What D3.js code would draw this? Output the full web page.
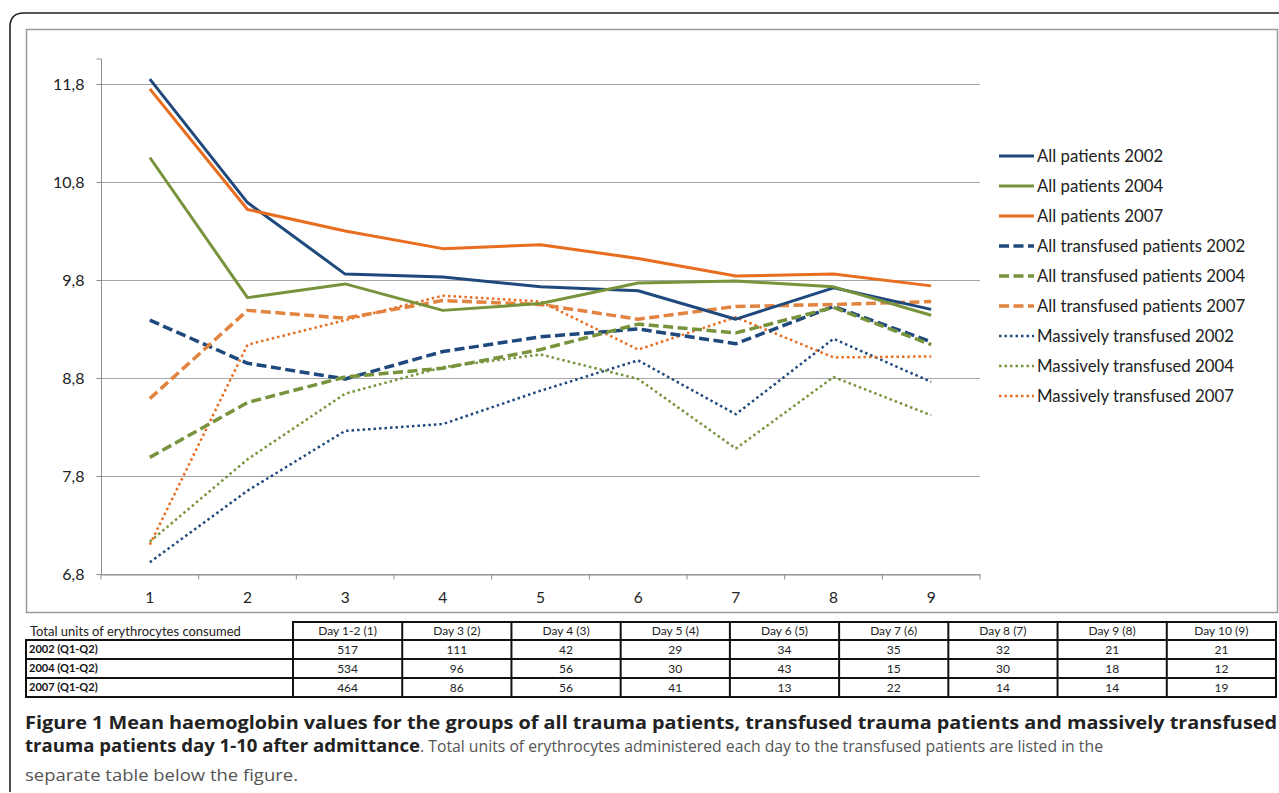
<!DOCTYPE html>
<body style="margin:0; background:#fff">

<script src="https://cdn.jsdelivr.net/npm/d3@7/dist/d3.min.js"></script>
<script>

  const days = [1, 2, 3, 4, 5, 6, 7, 8, 9]
  const yTicks = [6.8, 7.8, 8.8, 9.8, 10.8, 11.8]

  // mean haemoglobin per day
  const allPatients2002 = [11.85, 10.59, 9.86, 9.83, 9.73, 9.69, 9.40, 9.72, 9.50]
  const allPatients2004 = [11.05, 9.62, 9.76, 9.49, 9.56, 9.77, 9.79, 9.73, 9.44]
  const allPatients2007 = [11.75, 10.52, 10.30, 10.12, 10.16, 10.02, 9.84, 9.86, 9.74]
  const transfused2002 = [9.39, 8.95, 8.79, 9.07, 9.22, 9.30, 9.15, 9.53, 9.17]
  const transfused2004 = [7.99, 8.55, 8.81, 8.90, 9.09, 9.35, 9.26, 9.52, 9.14]
  const transfused2007 = [8.59, 9.49, 9.41, 9.59, 9.55, 9.40, 9.53, 9.55, 9.58]
  const massive2002 = [6.92, 7.65, 8.26, 8.33, 8.67, 8.98, 8.43, 9.20, 8.76]
  const massive2004 = [7.13, 7.97, 8.64, 8.91, 9.04, 8.79, 8.08, 8.81, 8.42]
  const massive2007 = [7.10, 9.14, 9.39, 9.64, 9.58, 9.09, 9.42, 9.01, 9.02]

  const seriesNames = ['All patients 2002', 'All patients 2004', 'All patients 2007',
                       'All transfused patients 2002', 'All transfused patients 2004', 'All transfused patients 2007',
                       'Massively transfused 2002', 'Massively transfused 2004', 'Massively transfused 2007']
  const seriesValues = [allPatients2002, allPatients2004, allPatients2007,
                        transfused2002, transfused2004, transfused2007,
                        massive2002, massive2004, massive2007]

  // table below the chart
  const tableTitle = 'Total units of erythrocytes consumed'
  const tableHeaders = ['Day 1-2 (1)', 'Day 3 (2)', 'Day 4 (3)', 'Day 5 (4)', 'Day 6 (5)',
                        'Day 7 (6)', 'Day 8 (7)', 'Day 9 (8)', 'Day 10 (9)']
  const tableRowLabels = ['2002 (Q1-Q2)', '2004 (Q1-Q2)', '2007 (Q1-Q2)']
  const units2002 = [517, 111, 42, 29, 34, 35, 32, 21, 21]
  const units2004 = [534, 96, 56, 30, 43, 15, 30, 18, 12]
  const units2007 = [464, 86, 56, 41, 13, 22, 14, 14, 19]
  const tableRows = [units2002, units2004, units2007]

  const colors = {blue: '#1F497D', green: '#77933C', orange: '#E86D1F', orangeLight: '#E2843F'}
  const styles = [
    {color: colors.blue, dash: null, width: 3},
    {color: colors.green, dash: null, width: 3},
    {color: colors.orange, dash: null, width: 3},
    {color: colors.blue, dash: '10,4.5', width: 3.5},
    {color: colors.green, dash: '10,4.5', width: 3.5},
    {color: colors.orangeLight, dash: '10,4.5', width: 3.5},
    {color: colors.blue, dash: '2.5,3', width: 2.5},
    {color: colors.green, dash: '2.5,3', width: 2.5},
    {color: colors.orange, dash: '2.5,3', width: 2.5}
  ]

  const plot = {left: 101, right: 980, top: 59, bottom: 574}
  const chartFont = 'Lato, "Open Sans", sans-serif'

  const svg = d3.select('body').append('svg')
      .attr('width', 1279)
      .attr('height', 793)

  // outer rounded frame, cut by the page edge
  svg.append('path')
      .attr('d', 'M10,792 L10,27 Q10,13 24,13 L1290,13')
      .style('fill', 'none')
      .style('stroke', '#222')
      .style('stroke-width', 1.6)

  // chart box
  svg.append('rect')
      .attr('x', 26.5).attr('y', 29.5)
      .attr('width', 1251).attr('height', 583)
      .style('fill', '#fff')
      .style('stroke', '#9a9a9a')
      .style('stroke-width', 1.5)

  const xScale = d3.scaleBand()
    .domain(days)
    .range([plot.left, plot.right])
  const yScale = d3.scaleLinear()
    .domain([6.8, 12.055])
    .range([plot.bottom, plot.top])

  const g = svg.append('g')

  // gridlines
  g.selectAll('.grid')
    .data(yTicks)
    .enter().append('line')
      .attr('class', 'grid')
      .attr('x1', plot.left).attr('x2', plot.right)
      .attr('y1', d => Math.round(yScale(d)) + 0.5)
      .attr('y2', d => Math.round(yScale(d)) + 0.5)
      .style('stroke', '#a6a6a6')
      .style('stroke-width', 1)

  const fmt = d => d3.format('.1f')(d).replace('.', ',')

  const yAxis = d3.axisLeft(yScale)
    .tickValues(yTicks)
    .tickFormat(fmt)
    .tickSize(5)
    .tickPadding(12)
  const gy = g.append('g')
      .attr('transform', `translate(${plot.left + 0.5},0)`)
      .call(yAxis)
  gy.select('.domain').attr('d', `M-5,${plot.top}H0V${plot.bottom}`).style('stroke', '#8c8c8c')
  gy.selectAll('.tick line').style('stroke', '#8c8c8c')
  gy.selectAll('.tick text')
      .style('font-family', chartFont)
      .style('font-size', '16px')
      .style('fill', '#222')

  // x axis: ticks between categories
  const xAxis = d3.axisBottom(xScale).tickSize(0).tickPadding(17)
  const gx = g.append('g')
      .attr('transform', `translate(0,${plot.bottom + 0.5})`)
      .call(xAxis)
  gx.select('.domain').style('stroke', '#8c8c8c')
  gx.selectAll('.tick text')
      .style('font-family', chartFont)
      .style('font-size', '15.5px')
      .style('fill', '#222')
  gx.selectAll('.sep')
    .data(days.concat([10]))
    .enter().append('line')
      .attr('class', 'sep')
      .attr('x1', (d, i) => plot.left + i * xScale.step())
      .attr('x2', (d, i) => plot.left + i * xScale.step())
      .attr('y1', 0).attr('y2', 5)
      .style('stroke', '#8c8c8c')

  // series lines
  const line = d3.line()
    .x((d, i) => xScale(days[i]) + xScale.bandwidth() / 2)
    .y(d => yScale(d))

  const order = [6, 7, 8, 3, 4, 5, 0, 1, 2]
  order.forEach(i => {
    g.append('path')
        .datum(seriesValues[i])
        .attr('d', line)
        .style('fill', 'none')
        .style('stroke', styles[i].color)
        .style('stroke-width', styles[i].width)
        .style('stroke-dasharray', styles[i].dash)
        .style('stroke-linejoin', 'round')
  })

  // legend
  const legend = svg.append('g')
  seriesNames.forEach((name, i) => {
    const y = 156 + i * 30
    legend.append('line')
        .attr('x1', 999).attr('x2', 1034)
        .attr('y1', y).attr('y2', y)
        .style('stroke', styles[i].color)
        .style('stroke-width', styles[i].width)
        .style('stroke-dasharray', styles[i].dash)
    legend.append('text')
        .attr('x', 1037).attr('y', y)
        .attr('dy', '0.35em')
        .style('font-family', chartFont)
        .style('font-size', '16.8px')
        .style('fill', '#222')
        .text(name)
  })

  // table
  const tab = {left: 26, first: 293, right: 1276, rowsY: [622, 640, 659, 678, 697]}
  const colW = (tab.right - tab.first) / tableHeaders.length
  const tg = svg.append('g')
      .style('font-family', chartFont)

  tg.append('text')
      .attr('x', 30).attr('y', (tab.rowsY[0] + tab.rowsY[1]) / 2)
      .attr('dy', '0.35em')
      .style('font-size', '13px')
      .style('fill', '#222')
      .text(tableTitle)

  tableHeaders.forEach((h, j) => {
    tg.append('text')
        .attr('x', tab.first + colW * (j + 0.5))
        .attr('y', (tab.rowsY[0] + tab.rowsY[1]) / 2)
        .attr('dy', '0.35em')
        .style('text-anchor', 'middle')
        .style('font-size', '12px')
        .style('fill', '#222')
        .text(h)
  })

  tableRows.forEach((row, r) => {
    const yc = (tab.rowsY[r + 1] + tab.rowsY[r + 2]) / 2
    tg.append('text')
        .attr('x', tab.left + 3).attr('y', yc)
        .attr('dy', '0.35em')
        .style('font-size', '11px')
        .style('font-weight', 'bold')
        .style('fill', '#111')
        .text(tableRowLabels[r])
    row.forEach((v, j) => {
      tg.append('text')
          .attr('x', tab.first + colW * (j + 0.5)).attr('y', yc)
          .attr('dy', '0.35em')
          .style('text-anchor', 'middle')
          .style('font-size', '12px')
          .style('fill', '#222')
          .text(v)
    })
  })

  // table rules
  const rules = []
  rules.push([tab.first, tab.rowsY[0], tab.right, tab.rowsY[0]])
  for (let r = 1; r < tab.rowsY.length; r++) rules.push([tab.left, tab.rowsY[r], tab.right, tab.rowsY[r]])
  rules.push([tab.left, tab.rowsY[1], tab.left, tab.rowsY[4]])
  for (let j = 0; j <= tableHeaders.length; j++) {
    rules.push([tab.first + colW * j, tab.rowsY[0], tab.first + colW * j, tab.rowsY[4]])
  }
  tg.selectAll('.rule')
    .data(rules)
    .enter().append('line')
      .attr('class', 'rule')
      .attr('x1', d => d[0]).attr('y1', d => d[1])
      .attr('x2', d => d[2]).attr('y2', d => d[3])
      .style('stroke', '#111')
      .style('stroke-width', 2)
      .style('stroke-linecap', 'square')

  // caption
  const capFont = '"Open Sans", sans-serif'
  svg.append('text')
      .attr('x', 25).attr('y', 729)
      .attr('textLength', 1252)
      .attr('lengthAdjust', 'spacingAndGlyphs')
      .style('font-family', capFont)
      .style('font-size', '17.5px')
      .style('font-weight', 'bold')
      .style('fill', '#222')
      .text('Figure 1 Mean haemoglobin values for the groups of all trauma patients, transfused trauma patients and massively transfused')

  svg.append('text')
      .attr('x', 25).attr('y', 752)
      .attr('textLength', 395)
      .attr('lengthAdjust', 'spacingAndGlyphs')
      .style('font-family', capFont)
      .style('font-size', '17.5px')
      .style('font-weight', 'bold')
      .style('fill', '#222')
      .text('trauma patients day 1-10 after admittance')

  svg.append('text')
      .attr('x', 420).attr('y', 752)
      .attr('textLength', 683)
      .attr('lengthAdjust', 'spacingAndGlyphs')
      .style('font-family', capFont)
      .style('font-size', '17px')
      .style('fill', '#555')
      .text('. Total units of erythrocytes administered each day to the transfused patients are listed in the')

  svg.append('text')
      .attr('x', 25).attr('y', 781)
      .attr('textLength', 273)
      .attr('lengthAdjust', 'spacingAndGlyphs')
      .style('font-family', capFont)
      .style('font-size', '17px')
      .style('fill', '#555')
      .text('separate table below the figure.')

</script>
</body>
